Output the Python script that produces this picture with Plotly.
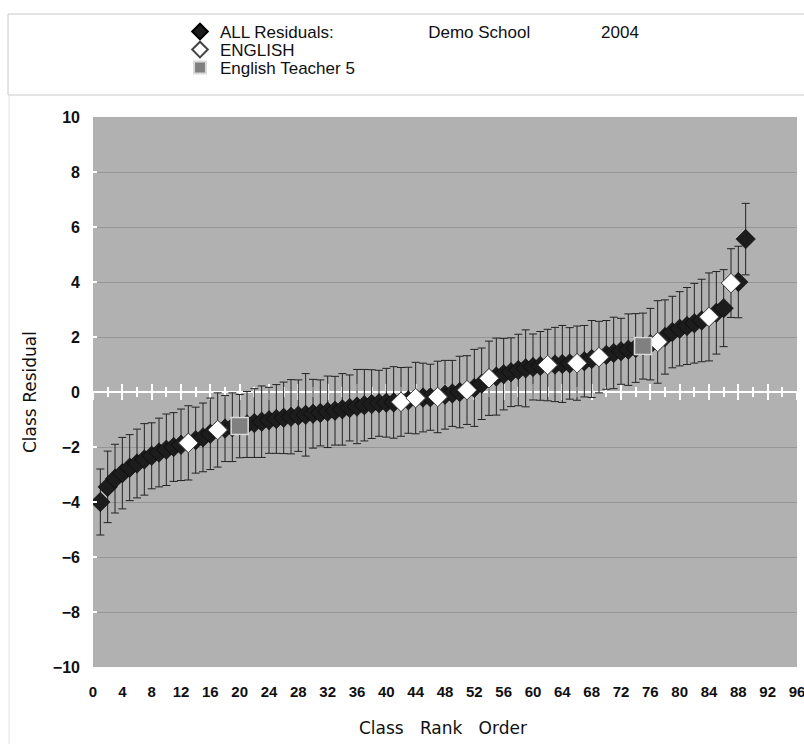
import plotly.graph_objects as go

# ---------------- data ----------------
ranks = list(range(1, 90))
all_values = [
    -4.00, -3.45, -3.15, -2.95, -2.75, -2.60, -2.45, -2.32, -2.20, -2.10,
    -2.00, -1.92, -1.85, -1.75, -1.65, -1.52, -1.38, -1.33, -1.28, -1.24,
    -1.18, -1.13, -1.08, -1.03, -0.98, -0.94, -0.90, -0.86, -0.83, -0.79,
    -0.76, -0.72, -0.68, -0.63, -0.58, -0.53, -0.48, -0.44, -0.41, -0.39,
    -0.38, -0.36, -0.30, -0.22, -0.20, -0.19, -0.18, -0.10, -0.05, 0.00,
    0.07, 0.15, 0.30, 0.50, 0.56, 0.65, 0.72, 0.80, 0.86, 0.91,
    0.95, 0.98, 1.00, 1.02, 1.04, 1.05, 1.12, 1.20, 1.27, 1.35,
    1.42, 1.48, 1.54, 1.60, 1.67, 1.74, 1.82, 2.00, 2.18, 2.30,
    2.40, 2.50, 2.60, 2.73, 2.88, 3.05, 3.96, 4.00, 5.56,
]
all_errors = [
    1.20, 1.30, 1.25, 1.30, 1.20, 1.25, 1.30, 1.20, 1.25, 1.30,
    1.25, 1.30, 1.35, 1.20, 1.25, 1.30, 1.35, 1.20, 1.25, 1.15,
    1.20, 1.25, 1.30, 1.20, 1.25, 1.30, 1.35, 1.30, 1.50, 1.25,
    1.20, 1.30, 1.25, 1.30, 1.20, 1.35, 1.30, 1.25, 1.20, 1.25,
    1.30, 1.25, 1.20, 1.30, 1.25, 1.20, 1.30, 1.25, 1.20, 1.30,
    1.25, 1.40, 1.30, 1.35, 1.40, 1.30, 1.25, 1.30, 1.40, 1.20,
    1.25, 1.30, 1.35, 1.40, 1.30, 1.35, 1.30, 1.40, 1.30, 1.25,
    1.30, 1.20, 1.30, 1.25, 1.20, 1.30, 1.50, 1.35, 1.30, 1.35,
    1.40, 1.45, 1.50, 1.60, 1.50, 1.40, 1.25, 1.30, 1.30,
]
english_ranks = [13, 17, 42, 44, 47, 51, 54, 62, 66, 69, 77, 84, 87]
teacher_ranks = [20, 75]
x_tick_values = list(range(0, 97, 4))
y_tick_values = list(range(-10, 11, 2))

english_values = [all_values[r - 1] for r in english_ranks]
teacher_values = [all_values[r - 1] for r in teacher_ranks]

name_all = ("ALL Residuals:" + "\u00a0" * 20 + "Demo School" + "\u00a0" * 15 + "2004")
name_eng = "ENGLISH"
name_tch = "English Teacher 5"

# ---------------- layout helpers ----------------
W, H = 804, 744
ML, MR, MT, MB = 93, 7, 117, 77


def px(x):
    return (x - ML) / (W - ML - MR)


def py(y):
    return (H - MB - y) / (H - MT - MB)


FONT = "Liberation Sans, Arial, sans-serif"
TXT = "#101010"

fig = go.Figure()

fig.add_trace(go.Scatter(
    x=ranks, y=all_values, mode="markers", name=name_all, legend="legend",
    marker=dict(symbol="diamond", size=15, color="#1c1c1c",
                line=dict(color="#000000", width=0.5)),
    error_y=dict(type="data", array=all_errors, visible=True,
                 color="#222222", thickness=1, width=4),
    hoverinfo="x+y",
))
fig.add_trace(go.Scatter(
    x=english_ranks, y=english_values, mode="markers", name=name_eng,
    legend="legend2",
    marker=dict(symbol="diamond", size=15, color="#ffffff",
                line=dict(color="#444444", width=1)),
))
fig.add_trace(go.Scatter(
    x=teacher_ranks, y=teacher_values, mode="markers", name=name_tch,
    legend="legend3",
    marker=dict(symbol="square", size=17, color="#808080",
                line=dict(color="#d9d9d9", width=1.5)),
))
# empty traces that carry the white crossing tick marks on the zero line
fig.add_trace(go.Scatter(x=[], y=[], xaxis="x2", showlegend=False,
                         hoverinfo="skip"))
fig.add_trace(go.Scatter(x=[], y=[], xaxis="x3", showlegend=False,
                         hoverinfo="skip"))

legend_common = dict(
    x=px(180), xanchor="left", yanchor="middle",
    bgcolor="rgba(0,0,0,0)", borderwidth=0,
    font=dict(family=FONT, size=17, color=TXT),
    itemsizing="constant",
)

zero_axis = dict(
    overlaying="x", anchor="free", position=0.5, range=[0, 96],
    showticklabels=False, showgrid=False, zeroline=False,
    showline=True, linecolor="white", linewidth=2, layer="below traces",
    tickmode="array", tickvals=x_tick_values, tickcolor="white",
    tickwidth=2, ticklen=7,
    minor=dict(dtick=2, ticklen=4, tickcolor="white", tickwidth=2),
    fixedrange=True,
)

fig.update_layout(
    width=W, height=H,
    margin=dict(l=ML, r=MR, t=MT, b=MB, autoexpand=False),
    paper_bgcolor="white",
    plot_bgcolor="#b1b1b1",
    font=dict(family=FONT, color=TXT),
    xaxis=dict(
        range=[0, 96], tickmode="array", tickvals=x_tick_values,
        showgrid=False, zeroline=False, showline=False, ticks="",
        tickfont=dict(family=FONT, size=15, color=TXT, weight="bold"),
        ticklabelstandoff=14, ticklabeloverflow="allow", fixedrange=True,
    ),
    xaxis2=dict(zero_axis, ticks="outside",
                minor=dict(zero_axis["minor"], ticks="outside")),
    xaxis3=dict(zero_axis, ticks="inside",
                minor=dict(zero_axis["minor"], ticks="inside")),
    yaxis=dict(
        range=[-10, 10], tickmode="array", tickvals=y_tick_values,
        showgrid=True, gridcolor="#969696", gridwidth=1,
        zeroline=True, zerolinecolor="white", zerolinewidth=2,
        showline=False, ticks="inside", tickcolor="white", ticklen=4,
        tickwidth=1.5,
        tickfont=dict(family=FONT, size=16, color=TXT, weight="bold"),
        ticklabelstandoff=12, fixedrange=True,
    ),
    legend=dict(legend_common, y=py(32)),
    legend2=dict(legend_common, y=py(50)),
    legend3=dict(legend_common, y=py(68)),
    showlegend=True,
    shapes=[
        dict(type="rect", xref="paper", yref="paper",
             x0=px(8), x1=px(830), y0=py(95), y1=py(14),
             line=dict(color="#c8c8c8", width=1), fillcolor="rgba(0,0,0,0)",
             layer="below"),
        dict(type="line", xref="paper", yref="paper",
             x0=px(9), x1=px(9), y0=py(95), y1=py(744),
             line=dict(color="#e2e2e2", width=1), layer="below"),
    ],
    annotations=[
        dict(text="Class\u00a0\u00a0 Rank\u00a0\u00a0 Order", xref="paper",
             yref="paper", x=px(443), y=py(728), showarrow=False,
             xanchor="center", yanchor="middle",
             font=dict(family="DejaVu Sans, sans-serif", size=17, color=TXT)),
        dict(text="Class Residual", xref="paper", yref="paper",
             x=px(30), y=py(392), showarrow=False, textangle=-90,
             xanchor="center", yanchor="middle",
             font=dict(family="DejaVu Sans, sans-serif", size=17, color=TXT)),
    ],
)

fig.write_html(
    "out.html",
    config={"displayModeBar": False},
    post_script="document.body.style.margin='0';document.body.style.overflow='hidden';",
)
